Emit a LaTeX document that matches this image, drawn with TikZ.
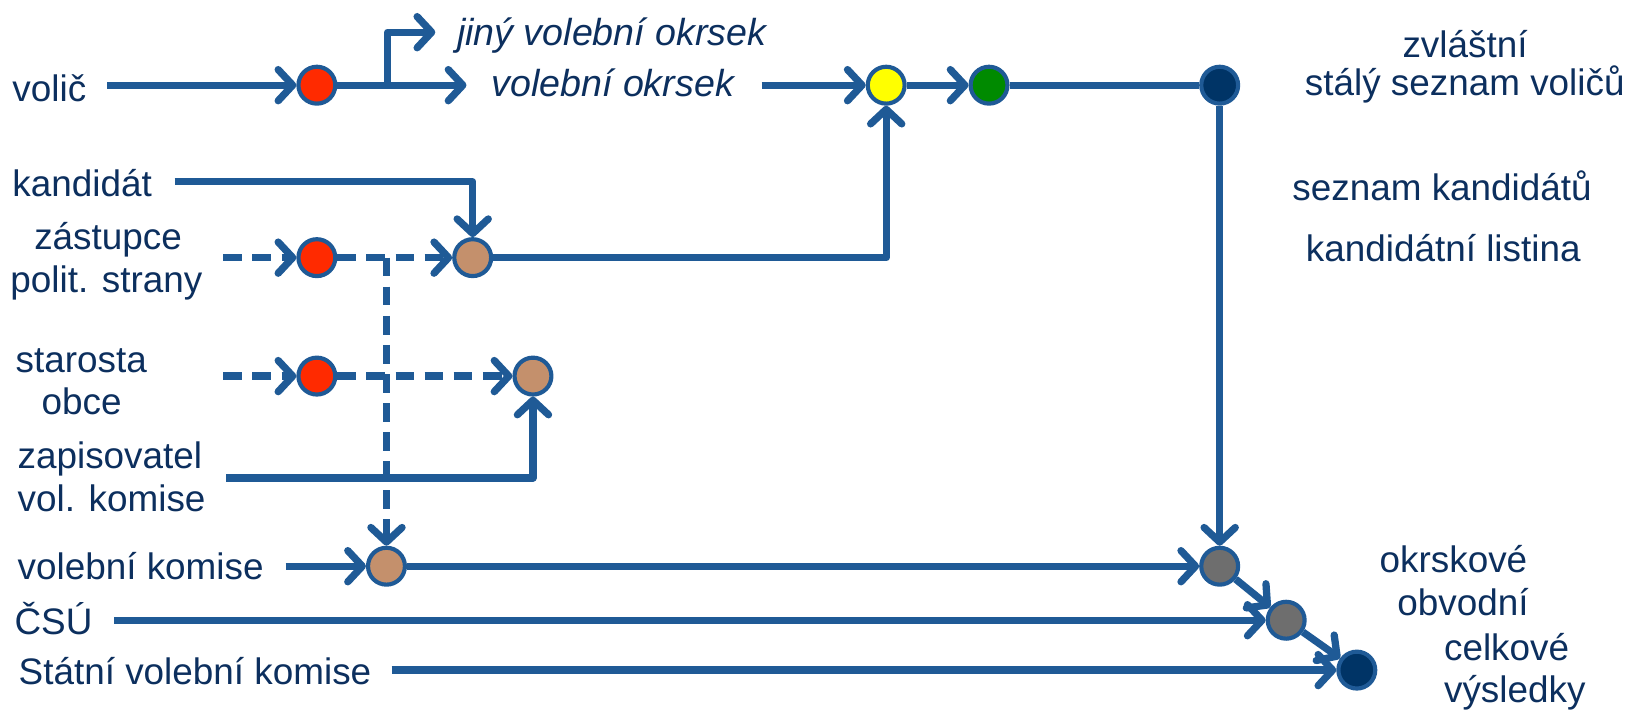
\documentclass[tikz,border=0pt]{standalone}
\usepackage{fontspec}
\setmainfont{Liberation Sans}
\usetikzlibrary{arrows.meta}
\definecolor{lineblue}{HTML}{1F5A96}
\definecolor{textblue}{HTML}{0C2F5E}
\definecolor{cred}{HTML}{FF2A00}
\definecolor{ctan}{HTML}{C4906C}
\definecolor{cyellow}{HTML}{FFFF00}
\definecolor{cgreen}{HTML}{008A00}
\definecolor{cgray}{HTML}{6E6E6E}
\definecolor{cnavy}{HTML}{003466}
\tikzset{
  lbl/.style={anchor=base west, inner sep=0pt, outer sep=0pt, text=textblue, font=\fontsize{35.5}{42}\selectfont},
  ilbl/.style={lbl, font=\fontsize{36.2}{42}\selectfont\itshape},
  dot/.style={circle, draw=lineblue, line width=4pt, minimum size=35.5pt, inner sep=0pt},
  conn/.style={draw=lineblue, line width=7pt, line join=round},
  arr/.style={conn, -{Straight Barb[length=14pt,width=30pt,round]}},
  dsh/.style={dash pattern=on 18pt off 10pt},
}
\begin{document}
\begin{tikzpicture}[x=1pt, y=-1pt]
\useasboundingbox (0,0) rectangle (1568,685);
% labels
\node[lbl] (tvolic) at (12,98) {volič};
\node[ilbl] (tjiny) at (440,44) {jiný volební okrsek};
\node[ilbl] (tvok) at (473,93) {volební okrsek};
\node[lbl] (tzvl) at (1350,55) {zvláštní};
\node[lbl] (tstaly) at (1256,92) {stálý seznam voličů};
\node[lbl] (tsezk) at (1244,193) {seznam kandidátů};
\node[lbl] (tkl) at (1257,252) {kandidátní listina};
\node[lbl] (tkand) at (12,189) {kandidát};
\node[lbl] (tzas) at (33,240) {zástupce};
\node[lbl] (tpol) at (10,282) {polit. strany};
\node[lbl] (tstar) at (15,359) {starosta};
\node[lbl] (tobce) at (40,399) {obce};
\node[lbl] (tzap) at (17,451) {zapisovatel};
\node[lbl] (tvolk) at (17,492) {vol. komise};
\node[lbl] (tvk) at (17,558) {volební komise};
\node[lbl] (tcsu) at (14,611) {ČSÚ};
\node[lbl] (tsvk) at (18,659) {Státní volební komise};
\node[lbl] (tokr) at (1328,551) {okrskové};
\node[lbl] (tobv) at (1345,592) {obvodní};
\node[lbl] (tcel) at (1390,636) {celkové};
\node[lbl] (tvys) at (1390,676) {výsledky};
% dots
\node[dot, fill=cred] (r1) at (305,82) {};
\node[dot, fill=cyellow] (ye) at (853,82) {};
\node[dot, fill=cgreen] (gr) at (952,82) {};
\node[dot, fill=cnavy] (n1) at (1174,82) {};
\node[dot, fill=cred] (r2) at (305,248) {};
\node[dot, fill=ctan] (t1) at (455,248) {};
\node[dot, fill=cred] (r3) at (305,362) {};
\node[dot, fill=ctan] (t2) at (513,362) {};
\node[dot, fill=ctan] (t3) at (372,545) {};
\node[dot, fill=cgray] (g1) at (1174,545) {};
\node[dot, fill=cgray] (g2) at (1238,597) {};
\node[dot, fill=cnavy] (n2) at (1306,645) {};
% free ends
\coordinate (svolic) at (103,82);
\coordinate (br) at (373,82);
\coordinate (jtop) at (373,31);
\coordinate (jtip) at (419,31);
\coordinate (vtip) at (449,82);
\coordinate (svok) at (733,82);
\coordinate (skand) at (168,175);
\coordinate (szas) at (215,248);
\coordinate (bz) at (372,248);
\coordinate (sstar) at (215,362);
\coordinate (szap) at (218,460);
\coordinate (svk) at (275,545);
\coordinate (scsu) at (110,597);
\coordinate (ssvk) at (377,645);
% connectors
\draw[arr] (svolic) -- (r1);
\draw[conn] (r1) -- (br);
\draw[arr] (br) -- (jtop) -- (jtip);
\draw[arr] (br) -- (vtip);
\draw[arr] (svok) -- (ye);
\draw[arr] (ye) -- (gr);
\draw[conn] (gr) -- (n1);
\draw[arr] (n1) -- (g1);
\draw[arr] (skand) -| (t1);
\draw[arr, dsh] (szas) -- (r2);
\draw[arr, dsh] (r2) -- (t1);
\draw[arr, dsh] (bz) -- (t3);
\draw[arr] (t1) -| (ye);
\draw[arr, dsh] (sstar) -- (r3);
\draw[arr, dsh] (r3) -- (t2);
\draw[arr] (szap) -| (t2);
\draw[arr] (svk) -- (t3);
\draw[arr] (t3) -- (g1);
\draw[arr] (scsu) -- (g2);
\draw[arr] (g1) -- (g2);
\draw[arr] (g2) -- (n2);
\draw[arr] (ssvk) -- (n2);
\end{tikzpicture}
\end{document}
